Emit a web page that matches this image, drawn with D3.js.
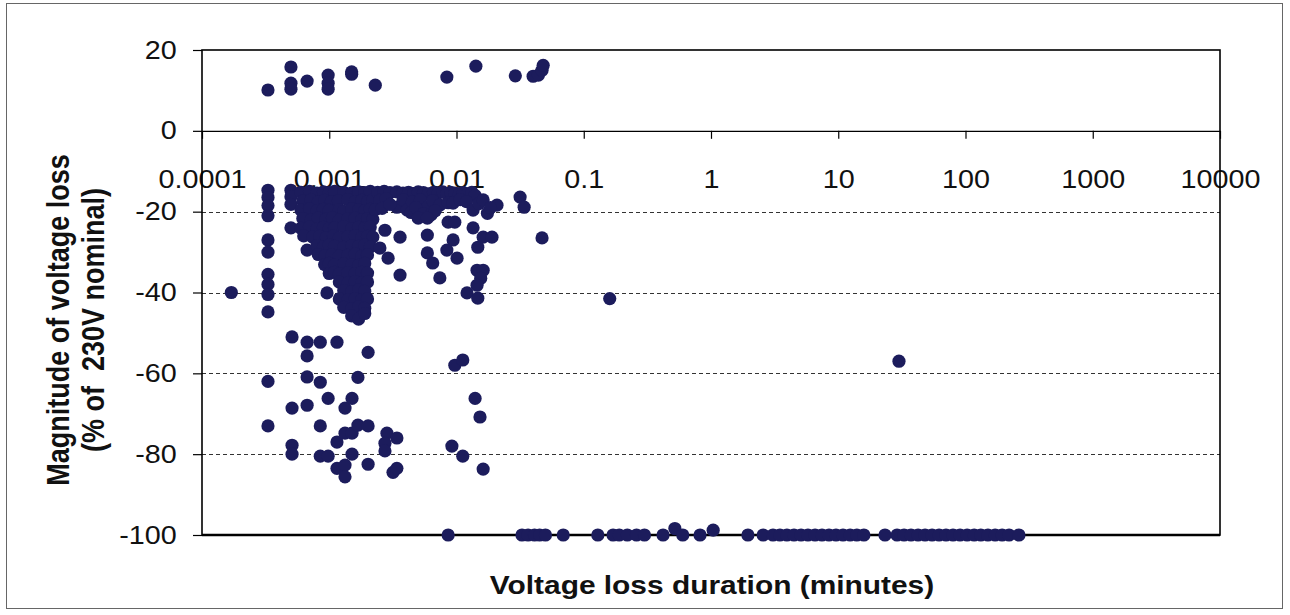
<!DOCTYPE html>
<html><head><meta charset="utf-8">
<script src="https://cdn.jsdelivr.net/npm/d3@7"></script>
<style>html,body{margin:0;padding:0;background:#fff;} svg{display:block;}</style>
</head><body><svg id="c" width="1290" height="615"></svg>
<script>
// ---------- data ----------
const xTickValues = [0.0001, 0.001, 0.01, 0.1, 1, 10, 100, 1000, 10000];
const xTickLabels = ["0.0001", "0.001", "0.01", "0.1", "1", "10", "100", "1000", "10000"];
const yTickValues = [20, 0, -20, -40, -60, -80, -100];
const gridValues = [-20, -40, -60, -80];
const xTitle = "Voltage loss duration (minutes)";
const yTitleLines = ["Magnitude of voltage loss", "(% of  230V nominal)"];

// swells (positive magnitude): [duration (min), magnitude (%)]
const swellPoints = [
  [0.00033,10.1],[0.0005,15.8],[0.0005,11.8],[0.0005,10.3],[0.00067,12.3],
  [0.00098,13.8],[0.00098,11.8],[0.00098,10.3],[0.0015,14.6],[0.0015,14.0],
  [0.0023,11.3],[0.0084,13.3],[0.0142,16.0],[0.029,13.6],[0.04,13.5],
  [0.044,13.8],[0.047,15.0],[0.048,16.2]
];

// sags: [duration (min), magnitude (%)]
const sagPoints = [
  // left columns
  [0.00033,-14.7],[0.00033,-16.5],[0.00033,-18.5],[0.00033,-21],[0.00033,-27],[0.00033,-30],
  [0.00033,-35.5],[0.00033,-38],[0.00033,-40.5],[0.00033,-44.8],[0.00033,-62],[0.00033,-73],
  [0.0005,-14.7],[0.0005,-16.3],[0.0005,-18.2],[0.0005,-24],[0.00051,-51],[0.00051,-68.6],
  [0.00051,-77.8],[0.00051,-80],[0.00017,-40],
  [0.00067,-29.5],[0.00067,-52.3],[0.00067,-55.7],[0.00067,-60.9],[0.00067,-67.9],
  [0.00085,-52.3],[0.00085,-62.2],[0.00085,-73],[0.00085,-80.5],[0.00096,-40.1],
  [0.00098,-66.2],[0.00098,-80.5],[0.00115,-52.3],[0.00115,-77],[0.00115,-83.5],
  [0.00133,-68.6],[0.00133,-74.8],[0.00133,-82.7],[0.00133,-85.6],
  [0.00151,-66.2],[0.00151,-74.8],[0.00151,-80],[0.00168,-61],[0.00168,-72.8],
  [0.00202,-54.8],[0.00202,-73],[0.00202,-82.5],
  [0.00284,-74.8],[0.0034,-76],[0.00274,-77.3],[0.00274,-79.2],[0.00317,-84.5],[0.0034,-83.5],
  [0.0092,-78],[0.0097,-58],[0.0112,-56.7],[0.0112,-80.5],[0.014,-66.2],[0.0153,-70.8],[0.0162,-83.7],
  // dense cluster
  [0.0006,-15.2],[0.0007,-15.0],[0.0008,-15.4],[0.0009,-15.1],[0.001,-15.3],[0.0011,-15.0],
  [0.0013,-15.2],[0.0015,-15.4],[0.0017,-15.1],[0.0019,-15.3],[0.0021,-15.0],
  [0.00062,-17.4],[0.00072,-17.1],[0.00082,-17.6],[0.00092,-17.2],[0.00104,-17.5],[0.00118,-17.3],
  [0.0014,-17.0],[0.0016,-17.6],[0.0018,-17.2],[0.002,-17.5],[0.0022,-17.1],
  [0.0006,-19.6],[0.0007,-19.3],[0.0008,-19.8],[0.0009,-19.4],[0.001,-19.7],[0.0012,-19.5],
  [0.0013,-19.9],[0.0015,-19.3],[0.0017,-19.6],[0.0019,-19.8],[0.0021,-19.4],
  [0.00062,-21.7],[0.00072,-22.0],[0.00082,-21.6],[0.00094,-21.9],[0.00106,-21.5],[0.0012,-22.1],
  [0.0014,-21.8],[0.0016,-21.6],[0.0018,-22.0],[0.002,-21.7],[0.0022,-21.9],
  [0.0006,-24.1],[0.0007,-23.8],[0.0008,-24.3],[0.0009,-23.9],[0.001,-24.2],[0.0011,-24.0],
  [0.0013,-23.7],[0.0015,-24.2],[0.0017,-23.9],[0.0019,-24.1],[0.0021,-23.8],
  [0.00063,-26.0],[0.00074,-26.3],[0.00084,-26.1],[0.00095,-26.4],[0.00108,-26.0],[0.0012,-26.5],
  [0.0014,-26.2],[0.0016,-26.0],[0.0018,-26.4],[0.002,-26.1],[0.0022,-26.3],
  [0.0008,-28.4],[0.0009,-28.7],[0.001,-28.3],[0.0011,-28.6],[0.0013,-28.8],[0.0015,-28.4],
  [0.0017,-28.6],[0.0019,-28.3],[0.0021,-28.7],
  [0.00082,-30.6],[0.00093,-30.9],[0.00105,-30.7],[0.0012,-31.0],[0.0014,-30.8],[0.0016,-30.5],
  [0.0018,-31.0],[0.002,-30.7],
  [0.00092,-33.1],[0.001,-32.8],[0.0011,-33.2],[0.0013,-32.9],[0.0015,-33.1],[0.0017,-33.3],[0.0019,-32.8],
  [0.001,-35.3],[0.0011,-35.0],[0.0012,-35.4],[0.0014,-35.1],[0.0016,-35.3],[0.0018,-35.0],[0.002,-35.2],
  [0.0012,-37.4],[0.0014,-37.7],[0.0016,-37.3],[0.0018,-37.6],[0.002,-37.4],
  [0.0013,-39.5],[0.0015,-39.8],[0.0017,-39.4],[0.0019,-39.7],
  [0.0012,-41.6],[0.0014,-41.9],[0.0016,-41.5],[0.0018,-41.8],[0.002,-41.6],
  [0.0013,-43.7],[0.0015,-44.0],[0.0017,-43.6],[0.0019,-43.9],
  [0.0015,-45.8],[0.0017,-46.6],[0.0019,-45.2],
  // upper band
  [0.0024,-15.2],[0.0027,-15.0],[0.003,-15.3],[0.0034,-15.1],[0.0038,-15.4],[0.0042,-15.2],
  [0.0046,-15.5],[0.005,-15.1],[0.0055,-15.3],[0.006,-15.6],[0.0066,-15.2],[0.0072,-15.4],
  [0.0078,-15.1],[0.0084,-15.5],[0.009,-15.2],[0.0097,-15.4],[0.0105,-15.6],[0.0113,-15.3],
  [0.0122,-15.6],[0.0132,-15.2],[0.014,-16.0],
  [0.0025,-17.2],[0.0028,-16.8],[0.0034,-18.9],[0.0038,-17.1],[0.0041,-19.6],[0.0045,-17.6],
  [0.0052,-17.1],[0.0059,-18.9],[0.0065,-17.3],[0.0074,-18.4],[0.0086,-17.8],[0.0094,-17.9],
  [0.0107,-17.0],[0.012,-17.5],[0.0135,-19.6],[0.015,-18.0],[0.0162,-17.1],[0.0175,-20.4],
  [0.0208,-18.4],[0.0185,-19.0],
  [0.0023,-19.5],[0.0026,-19.2],[0.003,-18.2],[0.0044,-20.2],[0.0048,-19.0],[0.0055,-20.5],
  [0.0063,-20.8],[0.0068,-19.8],
  // scattered
  [0.00274,-24.6],[0.0036,-26.3],[0.0025,-29],[0.0029,-31.5],[0.0036,-35.7],[0.005,-21.6],
  [0.0059,-21.6],[0.0059,-25.8],[0.0059,-30.2],[0.0065,-32.7],[0.0074,-36.4],[0.0086,-22.6],
  [0.0097,-22.6],[0.0094,-27],[0.0084,-29.5],[0.0101,-31.5],[0.0135,-24],[0.0147,-28.8],
  [0.0162,-26.3],[0.019,-26.3],[0.0145,-34.5],[0.0162,-34.5],[0.0155,-36.5],[0.0145,-38.2],
  [0.0121,-40.1],[0.0147,-41.4],[0.0316,-16.4],[0.034,-18.9],[0.047,-26.5],[0.16,-41.5],[30,-57]
];

// interruptions (around -100 %)
const interruptionDurations = [
  0.0086,0.0327,0.0365,0.041,0.045,0.05,0.069,0.129,0.17,0.19,0.22,0.26,0.30,0.42,0.52,0.60,0.82,1.04,
  1.95,2.57,3.07,3.48,3.95,4.49,5.1,5.78,6.57,7.45,8.46,9.6,10.9,12.4,14.0,15.9,23.3,
  29,32.9,37.3,42.4,48.1,54.6,62,70.3,79.8,90.6,103,117,132,150,171,194,220,263
];
const interruptionMagnitudes = [
  -100,-100,-100,-100,-100,-100,-100,-100,-100,-100,-100,-100,-100,-100,-98.4,-100,-100,-98.8,
  -100,-100,-100,-100,-100,-100,-100,-100,-100,-100,-100,-100,-100,-100,-100,-100,-100,
  -100,-100,-100,-100,-100,-100,-100,-100,-100,-100,-100,-100,-100,-100,-100,-100,-100,-100
];

// ---------- drawing ----------
const plotL = 202, plotR = 1220, plotT = 50, plotB = 535;
const dotColor = "#1c1c5c";
const font = "Arial, 'Liberation Sans', Helvetica, sans-serif";
const stretch = 1.15;

const svg = d3.select("#c");
const x = d3.scaleLog().domain([1e-4, 1e4]).range([plotL, plotR]);
const y = d3.scaleLinear().domain([-100, 20]).range([plotB, plotT]);

// outer frame
svg.append("rect").attr("x", 6.5).attr("y", 3.5).attr("width", 1276).attr("height", 605)
  .attr("fill", "none").attr("stroke", "#666").attr("stroke-width", 1);

// grid
svg.append("g").selectAll("line").data(gridValues).join("line")
  .attr("x1", plotL).attr("x2", plotR)
  .attr("y1", d => Math.round(y(d)) + 0.5).attr("y2", d => Math.round(y(d)) + 0.5)
  .attr("stroke", "#333").attr("stroke-width", 1).attr("stroke-dasharray", "4,3");

// y axis
const gy = svg.append("g").attr("transform", `translate(${plotL},0)`)
  .call(d3.axisLeft(y).tickValues(yTickValues).tickFormat(d => String(d))
    .tickSize(9).tickPadding(13).tickSizeOuter(0));
gy.select(".domain").remove();
gy.selectAll(".tick line").attr("stroke", "#000").attr("stroke-width", 1.2);
gy.selectAll(".tick text").attr("font-family", font).attr("font-size", 25).attr("fill", "#111")
  .attr("transform", `scale(${stretch},1)`);

// x axis at y = 0
const gx = svg.append("g").attr("transform", `translate(0,${y(0)})`)
  .call(d3.axisBottom(x).tickValues(xTickValues).tickFormat((d, i) => xTickLabels[i])
    .tickSize(8).tickPadding(31).tickSizeOuter(0));
gx.select(".domain").attr("stroke", "#000").attr("stroke-width", 1.3);
gx.selectAll(".tick line").attr("stroke", "#000").attr("stroke-width", 1.2);
gx.selectAll(".tick text").attr("font-family", font).attr("font-size", 25).attr("fill", "#111")
  .attr("transform", `scale(${stretch},1)`);

// plot border
svg.append("rect").attr("x", plotL).attr("y", plotT).attr("width", plotR - plotL).attr("height", plotB - plotT)
  .attr("fill", "none").attr("stroke", "#000").attr("stroke-width", 1.6);
svg.append("line").attr("x1", plotL).attr("x2", plotR).attr("y1", plotB).attr("y2", plotB)
  .attr("stroke", "#000").attr("stroke-width", 2.4);

// titles
svg.append("text").attr("transform", `translate(712,594) scale(${stretch},1)`)
  .attr("text-anchor", "middle").attr("font-family", font).attr("font-weight", "bold")
  .attr("font-size", 26).attr("fill", "#111").text(xTitle);

const yTitleX = [69, 104];
yTitleLines.forEach((t, i) => {
  svg.append("text").attr("transform", `translate(${yTitleX[i]},320) rotate(-90) scale(1,${stretch})`)
    .attr("text-anchor", "middle").attr("font-family", font).attr("font-weight", "bold")
    .attr("font-size", 27).attr("fill", "#111").style("white-space", "pre").text(t);
});

// points
const allPoints = swellPoints.concat(sagPoints)
  .concat(interruptionDurations.map((d, i) => [d, interruptionMagnitudes[i]]));
svg.append("g").selectAll("circle").data(allPoints).join("circle")
  .attr("cx", d => x(d[0])).attr("cy", d => y(d[1])).attr("r", 6.6)
  .attr("fill", dotColor);
</script></body></html>
